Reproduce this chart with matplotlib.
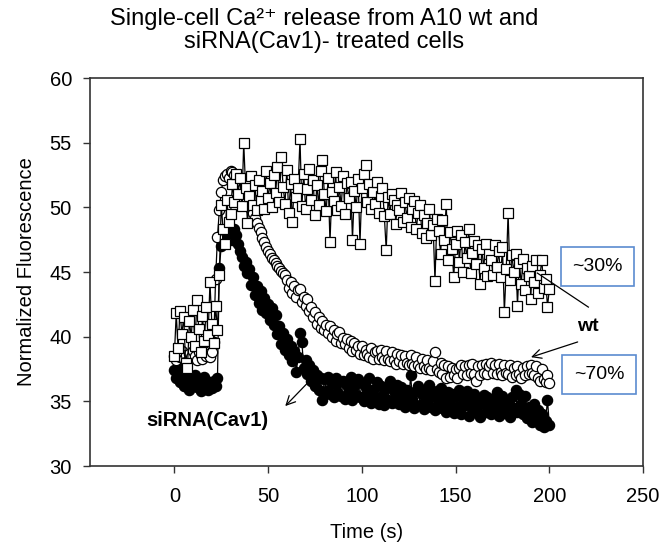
import numpy as np
import matplotlib
matplotlib.use("Agg")
import matplotlib.pyplot as plt
from matplotlib.patches import Rectangle

plt.rcParams["font.family"] = ["Liberation Sans", "DejaVu Sans"]

# ─── data (1 s sampling) ────────────────────────────────────────────────────
time = np.arange(0, 201)

# siRNA(Cav1) — filled circles
sirna = [
    37.4, 36.8, 37.6, 36.5, 36.9, 36.2, 37.1, 36.4, 35.9, 36.7,
    36.3, 37.0, 36.1, 36.6, 35.8, 36.4, 36.9, 36.2, 35.9, 36.5,
    36.0, 36.6, 36.2, 36.8, 45.3, 47.0, 47.8, 47.3, 48.2, 47.6,
    48.0, 47.5, 48.3, 47.9, 47.2, 46.6, 46.2, 45.5, 45.8, 44.9,
    45.2, 44.0, 44.6, 43.2, 43.9, 42.6, 43.5, 42.1, 43.0, 41.8,
    42.5, 41.3, 42.2, 40.9, 41.7, 40.2, 40.8, 39.4, 40.3, 39.0,
    39.8, 38.6, 39.3, 38.1, 38.9, 37.3, 38.4, 40.3, 39.6, 37.6,
    38.2, 37.1, 37.8, 36.6, 37.4, 36.2, 37.0, 35.9, 36.8, 35.1,
    36.7, 35.8, 36.9, 35.6, 36.4, 35.3, 36.8, 35.7, 36.5, 35.4,
    36.6, 35.2, 36.3, 35.8, 36.9, 35.1, 36.2, 35.5, 36.7, 35.3,
    36.4, 35.0, 36.1, 35.6, 36.8, 34.9, 35.9, 35.3, 36.5, 34.8,
    36.2, 35.4, 34.7, 36.0, 35.1, 36.6, 34.9, 35.8, 35.2, 36.3,
    34.8, 36.1, 35.5, 34.6, 35.9, 35.0, 37.0, 35.2, 34.5, 35.8,
    36.2, 34.7, 35.6, 34.4, 35.9, 35.1, 36.3, 34.6, 35.4, 34.3,
    35.8, 34.9, 36.0, 34.5, 35.3, 34.2, 35.7, 34.8, 35.6, 34.1,
    35.4, 34.6, 35.9, 34.0, 35.2, 34.7, 35.8, 33.9, 35.0, 34.5,
    35.6, 34.3, 35.1, 33.8, 34.9, 35.5, 34.2, 35.3, 34.6, 34.0,
    35.2, 34.4, 35.7, 33.9, 34.8, 35.4, 34.1, 35.0, 34.7, 33.8,
    35.3, 34.5, 35.9, 34.2, 35.6, 34.8, 34.0, 35.4, 33.7, 34.6,
    34.1, 33.4, 34.8, 33.6, 34.3, 33.2, 34.0, 33.0, 33.5, 35.1,
    33.2,
]

# wt — open circles
wt_circ = [
    38.5, 38.2, 38.8, 38.4, 38.9, 38.3, 38.6, 38.1, 38.7, 38.4,
    38.9, 38.5, 38.2, 38.8, 38.6, 38.3, 38.9, 38.5, 38.7, 38.4,
    38.8, 39.6, 44.5, 47.7, 49.8, 51.2, 52.1, 52.4, 52.6, 52.3,
    52.8, 52.7, 52.5, 52.2, 51.9, 51.6, 51.4, 51.1, 50.8, 50.6,
    50.3, 49.9, 49.6, 49.2, 48.8, 48.4, 48.1, 47.6, 47.3, 46.9,
    46.6, 46.4, 46.1, 45.9, 45.7, 45.5, 45.3, 45.1, 44.9, 44.8,
    44.4, 43.8, 44.2, 43.4, 43.9, 43.1, 43.6, 43.7, 42.7, 43.1,
    42.4, 42.9, 42.0, 42.3, 41.5, 41.9, 41.0, 41.5, 40.7, 41.2,
    40.5, 40.9, 40.3, 40.8, 40.0, 40.5, 39.7, 40.2, 40.4, 39.5,
    39.9, 39.4, 39.8, 39.1, 39.7, 38.9, 39.5, 39.0, 39.3, 38.7,
    39.3, 38.6, 39.0, 38.7, 38.4, 39.1, 38.3, 38.8, 38.9, 38.3,
    39.0, 38.4, 38.2, 38.9, 38.3, 38.1, 38.8, 38.2, 37.9, 38.7,
    38.1, 38.6, 37.9, 38.5, 38.0, 37.8, 38.6, 37.9, 37.7, 38.4,
    37.8, 37.6, 38.3, 37.7, 37.5, 38.2, 37.6, 37.4, 38.1, 38.8,
    37.5, 37.3, 38.0, 37.1, 37.8, 36.8, 37.7, 36.9, 37.6, 37.0,
    37.5, 36.8, 37.6, 37.8, 37.1, 37.7, 37.0, 37.8, 37.2, 37.9,
    37.1, 36.6, 37.7, 37.0, 37.8, 37.2, 37.9, 37.1, 37.7, 38.0,
    37.2, 37.8, 37.1, 37.9, 37.3, 37.0, 37.8, 37.2, 37.1, 37.8,
    36.9, 37.6, 37.0, 37.7, 37.1, 36.8, 37.6, 37.0, 37.7, 37.1,
    37.8, 37.2, 37.0, 37.7, 36.8, 36.6, 37.5, 36.7, 36.5, 37.0,
    36.4,
]

# wt — open squares
wt_sq = [
    38.5, 41.8, 39.1, 42.0, 40.2, 41.5, 38.0, 37.6, 41.2, 40.0,
    42.1, 39.3, 42.8, 40.6, 38.8, 41.6, 39.7, 42.3, 40.1, 44.2,
    41.0, 39.5, 42.4, 40.5, 44.8, 50.2, 48.3, 47.2, 50.6, 48.9,
    49.5, 51.8, 50.4, 52.6, 51.0, 52.3, 50.1, 55.0, 51.5, 48.8,
    50.9, 52.4, 50.2, 51.7, 49.8, 52.1, 50.6, 51.3, 49.9, 52.8,
    50.7, 51.9, 50.0, 52.5, 51.1, 53.1, 50.4, 53.9, 51.6, 50.3,
    52.9, 49.6, 51.8, 48.9, 52.2, 50.8, 51.5, 55.3, 50.1, 52.6,
    49.9, 51.4, 53.0, 50.6, 52.1, 49.4, 51.7, 50.2, 52.8, 53.7,
    51.0, 49.7, 52.3, 47.3, 51.2, 50.5, 52.7, 49.8, 51.6, 50.1,
    52.4, 49.5, 51.9, 50.7, 52.0, 47.5, 51.3, 50.0, 52.2, 47.2,
    51.5, 52.6, 53.3, 50.4, 51.8, 49.9, 51.2, 50.3, 52.0, 49.6,
    50.9, 51.5, 49.3, 46.7, 50.8, 49.5, 51.0, 50.6, 48.7, 50.2,
    49.8, 51.1, 48.9, 50.4, 49.2, 50.7, 48.5, 49.9, 50.5, 48.3,
    49.6, 50.2, 48.0, 49.4, 47.6, 48.8, 49.9, 47.9, 48.6, 44.3,
    49.1, 48.2, 46.4, 49.0, 47.5, 50.3, 45.9, 48.1, 46.8, 44.6,
    47.2, 48.2, 45.8, 47.9, 45.0, 47.3, 46.1, 48.3, 44.9, 46.5,
    47.4, 45.6, 47.1, 44.1, 46.8, 45.3, 47.2, 44.7, 46.4, 45.9,
    44.8, 47.1, 45.4, 46.6, 44.6, 46.9, 41.9, 45.2, 49.6, 44.4,
    46.3, 45.0, 46.4, 42.4, 45.7, 44.1, 46.0, 43.6, 45.3, 44.7,
    42.9, 45.5, 44.2, 45.9, 43.4, 44.8, 45.9, 43.8, 44.5, 42.3,
    43.7,
]

x_ticks = [0, 50, 100, 150, 200, 250]
y_ticks = [30, 35, 40, 45, 50, 55, 60]

BOX_BLUE = "#5b8bd0"

# ─── figure ─────────────────────────────────────────────────────────────────
fig = plt.figure(figsize=(6.63, 5.46), dpi=100)
ax = fig.add_axes([0.1357, 0.1465, 0.8343, 0.7105])

line_kw = dict(color="black", lw=0.9, markeredgewidth=0.9,
               markeredgecolor="black")
ax.plot(time, sirna, marker="o", ms=7.4, markerfacecolor="black", **line_kw)
ax.plot(time, wt_circ, marker="o", ms=7.4, markerfacecolor="white", **line_kw)
ax.plot(time, wt_sq, marker="s", ms=6.6, markerfacecolor="white", **line_kw)

ax.set_xlim(-45, 250)
ax.set_ylim(30, 60)
ax.set_xticks(x_ticks)
ax.set_yticks(y_ticks)
ax.tick_params(direction="out", length=5, width=1, labelsize=14.5,
               color="#333333")
ax.tick_params(axis="x", pad=10)
ax.tick_params(axis="y", pad=8)
for sp in ax.spines.values():
    sp.set_linewidth(1.2)
    sp.set_color("#333333")

ax.set_xlabel("Time (s)", fontsize=14.5, labelpad=12)
ax.set_ylabel("Normalized Fluorescence", fontsize=14.5, labelpad=10)

fig.text(0.489, 0.985,
         "Single-cell Ca\u00b2\u207a release from A10 wt and\nsiRNA(Cav1)- treated cells",
         ha="center", va="top", fontsize=17, linespacing=1.05)

# ─── annotations ────────────────────────────────────────────────────────────
ax.add_patch(Rectangle((206.4, 43.9), 38.9, 3.0, facecolor="white",
                       edgecolor=BOX_BLUE, lw=1.2, zorder=5))
ax.text(225.8, 45.4, "~30%", ha="center", va="center", fontsize=14, zorder=6)
ax.add_patch(Rectangle((206.9, 35.56), 39.5, 3.0, facecolor="white",
                       edgecolor=BOX_BLUE, lw=1.2, zorder=5))
ax.text(226.6, 37.06, "~70%", ha="center", va="center", fontsize=14, zorder=6)

ax.text(220.8, 40.8, "wt", ha="center", va="center", fontsize=14,
        fontweight="bold")
ax.plot([193.6, 220.8], [44.92, 42.29], color="black", lw=0.9)
ax.annotate("", xy=(188.8, 38.35), xytext=(216.5, 39.66),
            arrowprops=dict(arrowstyle="->", color="black", lw=0.9,
                            mutation_scale=16))

ax.text(17.6, 33.55, "siRNA(Cav1)", ha="center", va="center", fontsize=14.5,
        fontweight="bold")
ax.annotate("", xy=(58.1, 34.48), xytext=(72.5, 36.64),
            arrowprops=dict(arrowstyle="->", color="black", lw=0.9,
                            mutation_scale=16))

fig.savefig("out.png", dpi=100)
